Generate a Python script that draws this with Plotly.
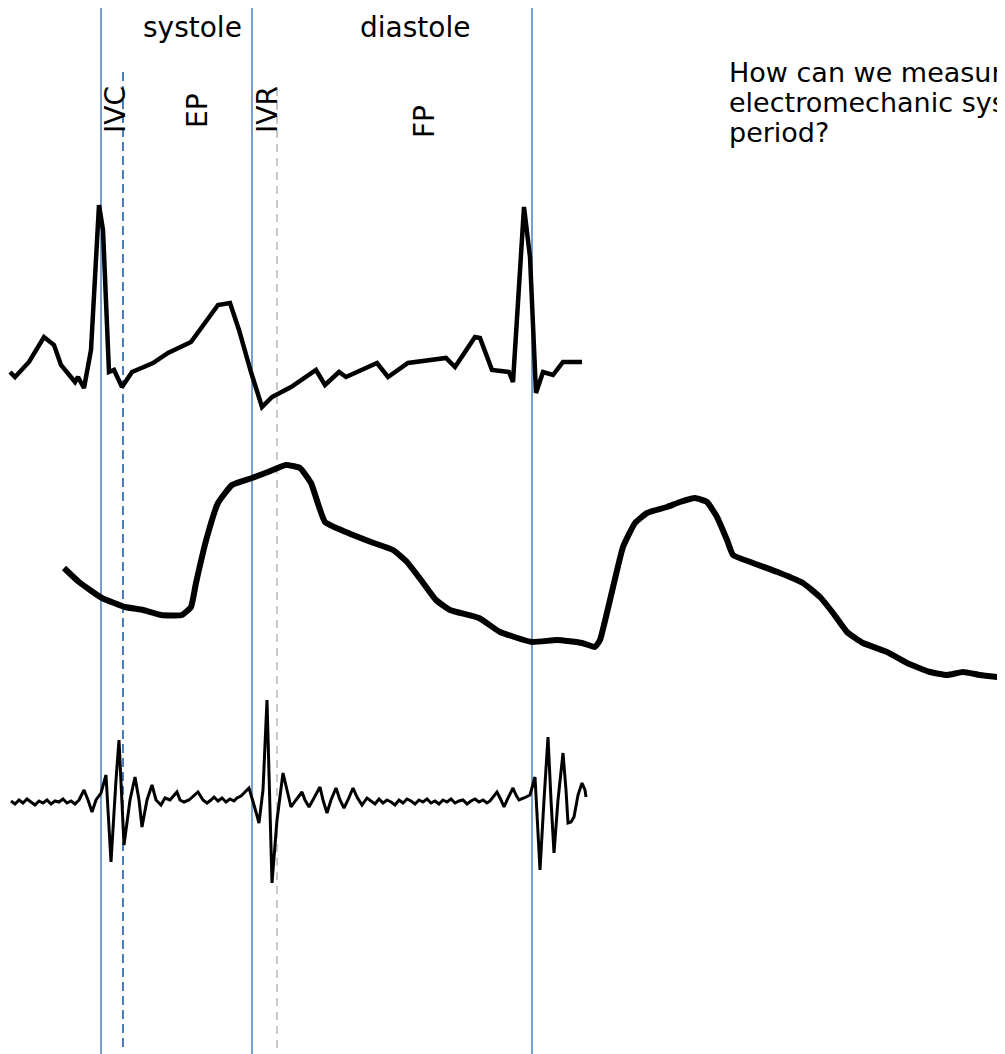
import plotly.graph_objects as go

# ---- data (time axis in screen-time units, amplitudes in display units) ----
ecg_t = [10, 15, 29, 44, 54, 61, 75, 78, 84, 91, 99, 103, 109, 114, 122, 132, 153, 168,
         191, 207, 218, 230, 239, 251, 262, 272, 291, 316, 325, 339, 346, 377, 388, 408,
         446, 455, 475, 480, 492, 509, 513, 524, 530, 536, 543, 553, 563, 582]
ecg_v = [372, 377, 362, 337, 345, 365, 382, 377, 388, 350, 205, 230, 372, 370, 387, 372, 363, 353,
         342, 320, 305, 303, 330, 372, 407, 397, 387, 370, 385, 372, 377, 363, 377, 363,
         358, 367, 337, 338, 370, 372, 382, 207, 257, 393, 372, 375, 362, 362]

pressure_t = [64, 79, 102, 125, 143, 161, 182, 191, 196, 207, 218, 232, 252, 268, 286, 300,
              311, 325, 346, 371, 393, 407, 421, 436, 450, 479, 500, 532, 557, 582, 595,
              600, 610, 623, 635, 647, 667, 680, 695, 707, 717, 727, 733, 753, 780, 803,
              820, 833, 847, 863, 887, 907, 930, 947, 963, 980, 1005]
pressure_v = [568, 582, 598, 607, 610, 615, 615, 607, 583, 537, 503, 485, 478, 472, 465, 468,
              483, 522, 532, 542, 550, 562, 580, 600, 610, 618, 632, 642, 640, 643, 647,
              640, 600, 547, 523, 513, 507, 502, 498, 502, 517, 540, 555, 563, 573, 583,
              597, 613, 632, 643, 652, 663, 672, 675, 672, 675, 678]

pcg_t = [11, 15, 19, 23, 27, 31, 35, 39, 43, 47, 51, 55, 59, 63, 67, 71, 75, 79,
         84, 88, 92, 96, 98, 101, 106, 111, 116, 119, 124, 130, 135, 139, 142, 147, 152, 156,
         161, 165, 170, 174, 177, 180, 184, 189, 193, 198, 203, 207, 211, 214, 218, 222,
         226, 230, 234, 237, 241, 245, 249, 254, 259, 263, 267, 272, 277, 283, 287, 291,
         296, 302, 305, 309, 314, 320, 323, 327, 331, 336, 340, 344, 348, 353, 357, 362, 367,
         371, 375, 379, 383, 387, 391, 395, 399, 403, 407, 411, 415, 419, 423, 427, 431,
         435, 439, 443, 447, 451, 455, 459, 463, 467, 471, 475, 479, 483, 487, 490,
         497, 501, 504, 508, 513, 516, 519, 524, 530, 535, 540, 544, 548, 551, 554, 558,
         563, 566, 568, 571, 574, 578, 582, 585, 586]
pcg_v = [801, 804, 800, 803, 799, 802, 805, 801, 803, 800, 804, 801, 802, 799, 803, 801, 804, 800,
         790, 800, 812, 800, 797, 793, 775, 862, 780, 740, 845, 800, 777, 800, 827, 800, 785, 800,
         805, 798, 800, 796, 792, 800, 802, 800, 796, 792, 800, 803, 800, 797, 801, 798,
         802, 799, 801, 798, 796, 792, 788, 805, 823, 790, 700, 883, 820, 773, 790, 807,
         800, 792, 800, 807, 798, 787, 800, 813, 800, 788, 800, 808, 800, 788, 797, 805, 798,
         801, 804, 799, 803, 800, 802, 805, 800, 803, 799, 801, 804, 800, 802, 799, 803,
         801, 804, 800, 802, 799, 803, 801, 800, 804, 801, 799, 802, 800, 803, 801,
         792, 800, 807, 798, 788, 795, 800, 798, 795, 777, 870, 800, 737, 800, 853, 800,
         753, 790, 823, 822, 817, 795, 783, 790, 797]

phase_lines_t = [101, 252, 532]
ivc_end_t = 123
ivr_end_t = 277

phase_labels = ["systole", "diastole"]
phase_label_t = [192, 415]
interval_labels = ["IVC", "EP", "IVR", "FP"]
interval_label_t = [115, 197, 267, 424]
interval_label_y = [110, 111, 110, 122]
question_lines = ["How can we measure the", "electromechanic systolic", "period?"]

FONT = "DejaVu Sans"
BLUE = "#4a7ebb"
PAGE_OFFSET = 8  # default body margin of the HTML page

fig = go.Figure()

# vertical phase markers
for t in phase_lines_t:
    fig.add_trace(go.Scatter(x=[t, t], y=[0, 1060], mode="lines",
                             line=dict(color=BLUE, width=1.5), hoverinfo="skip"))
fig.add_trace(go.Scatter(x=[ivc_end_t, ivc_end_t], y=[72, 1048], mode="lines",
                         line=dict(color=BLUE, width=2, dash="9px,5px"), hoverinfo="skip"))
fig.add_trace(go.Scatter(x=[ivr_end_t, ivr_end_t], y=[88, 1060], mode="lines",
                         line=dict(color="#c8c8c8", width=2, dash="8px,6px"), hoverinfo="skip"))

# signals
fig.add_trace(go.Scatter(x=ecg_t, y=ecg_v, mode="lines",
                         line=dict(color="black", width=4.5), hoverinfo="skip"))
fig.add_trace(go.Scatter(x=pressure_t, y=pressure_v, mode="lines",
                         line=dict(color="black", width=6, shape="spline", smoothing=0.4),
                         hoverinfo="skip"))
fig.add_trace(go.Scatter(x=pcg_t, y=pcg_v, mode="lines",
                         line=dict(color="black", width=3), hoverinfo="skip"))

annotations = []
for lab, t in zip(phase_labels, phase_label_t):
    annotations.append(dict(x=t, y=27, xref="x", yref="y", text=lab, showarrow=False,
                            font=dict(family=FONT, size=28, color="black"),
                            xanchor="center", yanchor="middle"))
for lab, t, yy in zip(interval_labels, interval_label_t, interval_label_y):
    annotations.append(dict(x=t, y=yy, xref="x", yref="y", text=lab, showarrow=False,
                            textangle=-90,
                            font=dict(family=FONT, size=28, color="black"),
                            xanchor="center", yanchor="middle"))
for i, line in enumerate(question_lines):
    annotations.append(dict(x=727, y=72 + 30 * i, xref="x", yref="y", text=line,
                            showarrow=False,
                            font=dict(family=FONT, size=27, color="black"),
                            xanchor="left", yanchor="middle"))

fig.update_layout(
    width=1005 - PAGE_OFFSET, height=1054 - PAGE_OFFSET,
    margin=dict(l=0, r=0, t=0, b=0),
    paper_bgcolor="white", plot_bgcolor="white",
    showlegend=False,
    xaxis=dict(range=[PAGE_OFFSET, 1005], visible=False, fixedrange=True),
    yaxis=dict(range=[1054, PAGE_OFFSET], visible=False, fixedrange=True),
    annotations=annotations,
)

fig.write_html("out.html")
